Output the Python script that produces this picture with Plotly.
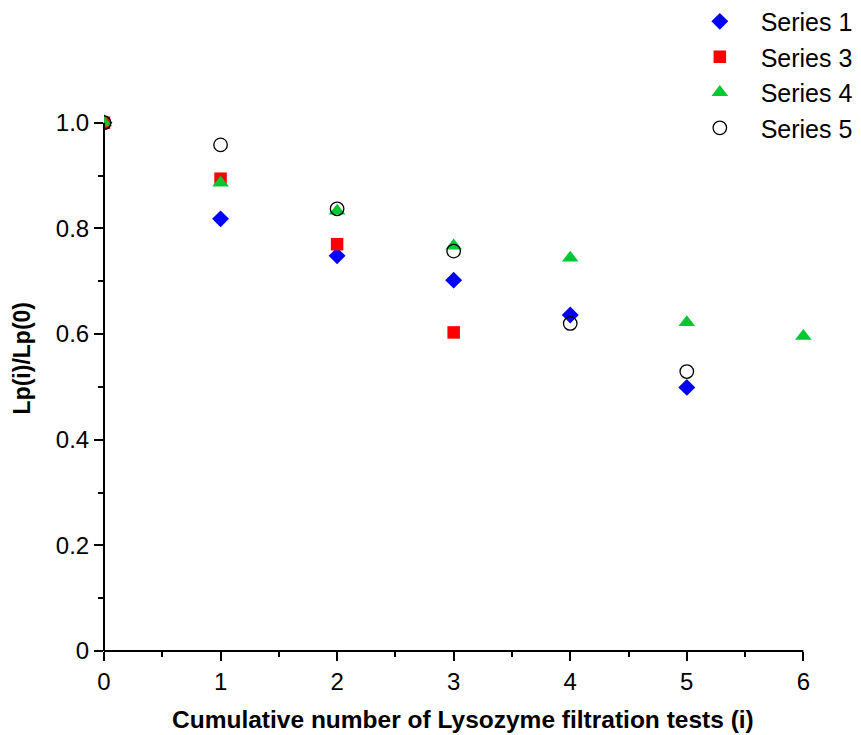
import plotly.graph_objects as go

# ---- data ----
x_tests = [0, 1, 2, 3, 4, 5, 6]
series1 = [1.0, 0.818, 0.748, 0.702, 0.636, 0.499]
series3 = [1.0, 0.894, 0.770, 0.603]
series4 = [1.0, 0.886, 0.833, 0.767, 0.744, 0.622, 0.596]
series5 = [1.0, 0.958, 0.837, 0.757, 0.620, 0.529]

y_tickvals = [0, 0.2, 0.4, 0.6, 0.8, 1.0]
y_ticktext = ["0", "0.2", "0.4", "0.6", "0.8", "1.0"]
x_tickvals = [0, 1, 2, 3, 4, 5, 6]

X_MAX = 6.1
Y_MAX = 1.06

FONT = "Liberation Sans, Arial, sans-serif"
NB = "\u00a0\u00a0\u00a0"

fig = go.Figure()
fig.add_trace(go.Scatter(
    x=x_tests[:len(series1)], y=series1, mode="markers", name=NB + "Series 1",
    marker=dict(symbol="diamond", size=13, color="#0000FF", line=dict(width=0))))
fig.add_trace(go.Scatter(
    x=x_tests[:len(series3)], y=series3, mode="markers", name=NB + "Series 3",
    marker=dict(symbol="square", size=12.5, color="#FF0000", line=dict(width=0))))
fig.add_trace(go.Scatter(
    x=x_tests[:len(series4)], y=series4, mode="markers", name=NB + "Series 4",
    marker=dict(symbol="triangle-up", size=14.5, color="rgb(0,200,50)", line=dict(width=0))))
fig.add_trace(go.Scatter(
    x=x_tests[:len(series5)], y=series5, mode="markers", name=NB + "Series 5",
    marker=dict(symbol="circle-open", size=13.5, color="#000000", line=dict(width=1.3, color="#000000"))))

axis_common = dict(
    showgrid=False, zeroline=False, showline=False,
    ticks="outside", ticklen=9, tickwidth=1.5, tickcolor="black",
    tickfont=dict(family=FONT, size=24, color="black"),
)

fig.update_xaxes(
    range=[0, X_MAX], tickmode="array", tickvals=x_tickvals,
    minor=dict(dtick=0.5, ticks="outside", ticklen=5, tickwidth=1.5, tickcolor="black", showgrid=False),
    title=dict(text="<b>\u00a0Cumulative number of Lysozyme filtration tests (i)</b>",
               font=dict(family=FONT, size=24.5, color="black"), standoff=17),
    **axis_common)
fig.update_yaxes(
    range=[0, Y_MAX], tickmode="array", tickvals=y_tickvals, ticktext=y_ticktext,
    minor=dict(dtick=0.1, ticks="outside", ticklen=5, tickwidth=1.5, tickcolor="black", showgrid=False),
    title=dict(text="<b>\u00a0\u00a0\u00a0\u00a0Lp(i)/Lp(0)</b>",
               font=dict(family=FONT, size=23, color="black"), standoff=18),
    **axis_common)

# axis lines (end at 6 and at 1.0 as in the reference)
fig.add_shape(type="line", xref="paper", yref="paper",
              x0=0, x1=x_tickvals[-1] / X_MAX, y0=0, y1=0,
              line=dict(color="black", width=2))
fig.add_shape(type="line", xref="paper", yref="paper",
              x0=0, x1=0, y0=0, y1=y_tickvals[-1] / Y_MAX,
              line=dict(color="black", width=2))

fig.update_layout(
    width=861, height=735,
    margin=dict(l=104, r=46, t=91, b=84, autoexpand=False),
    plot_bgcolor="white", paper_bgcolor="white",
    showlegend=True,
    legend=dict(x=0.838, xanchor="left", y=1.165, yanchor="top",
                font=dict(family=FONT, size=25, color="black"),
                bgcolor="rgba(0,0,0,0)", tracegroupgap=0),
    font=dict(family=FONT),
)

fig.write_html("out.html")
